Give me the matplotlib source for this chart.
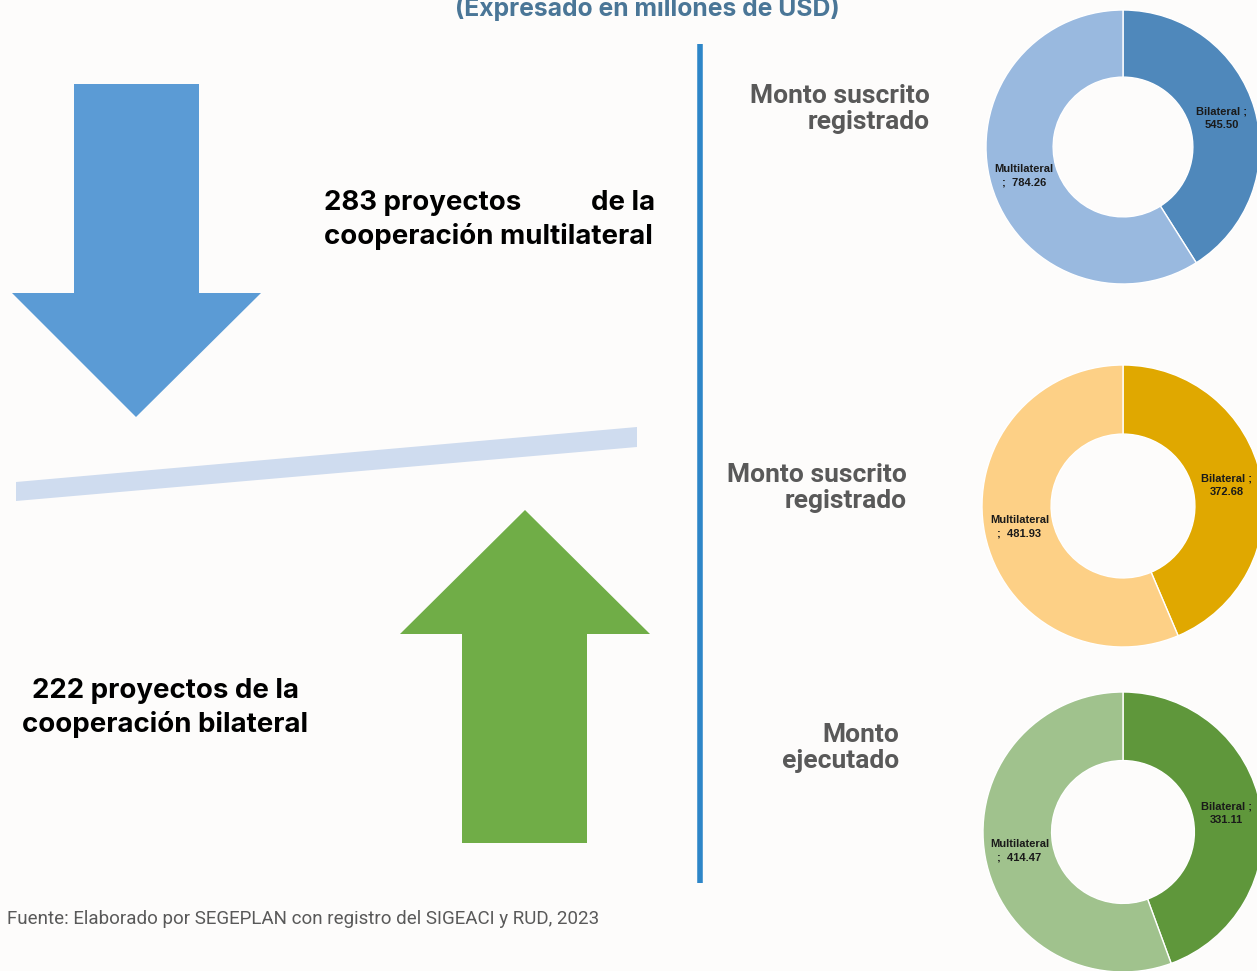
import matplotlib
matplotlib.use('Agg')
import matplotlib.pyplot as plt
from matplotlib.patches import Polygon

# data
panel_titles = ['Monto suscrito\nregistrado', 'Monto suscrito\nregistrado', 'Monto\nejecutado']
bilateral = [545.50, 372.68, 331.11]
multilateral = [784.26, 481.93, 414.47]
bil_colors = ['#4f88bb', '#e0a800', '#5f973b']
mul_colors = ['#99b9df', '#fdd086', '#a0c28d']
n_multi = 283
n_bi = 222

W, H = 1257, 971
fig = plt.figure(figsize=(W / 100, H / 100), dpi=100)
fig.patch.set_facecolor('#fdfcfb')

bg = fig.add_axes([0, 0, 1, 1])
bg.set_xlim(0, W)
bg.set_ylim(H, 0)
bg.axis('off')

# title (cut off at top in the original)
bg.text(647, 16, '(Expresado en millones de USD)', ha='center', va='baseline',
        fontsize=17.8, fontweight='bold', color='#4a7697', family='Inter')

# arrows and balance bar
down = [(74, 84), (199, 84), (199, 293), (261, 293), (136, 417), (12, 293), (74, 293)]
up = [(462, 843), (587, 843), (587, 634), (650, 634), (525, 510), (400, 634), (462, 634)]
bg.add_patch(Polygon(down, closed=True, color='#5b9bd5', lw=0))
bg.add_patch(Polygon(up, closed=True, color='#70ad47', lw=0))
bg.add_patch(Polygon([(16, 482), (637, 427), (637, 447), (16, 501)], closed=True,
                     color='#cfdcef', lw=0))

# divider
bg.plot([700, 700], [44, 883], color='#2e86c8', lw=4, solid_capstyle='butt')

# project counts
big = dict(fontsize=19.9, fontweight='bold', color='black', family='Inter')
bg.text(324, 203, f'{n_multi} proyectos', ha='left', va='center', **big)
bg.text(655, 203, 'de la', ha='right', va='center', **big)
bg.text(324, 237, 'cooperación multilateral', ha='left', va='center', **big)
bg.text(165, 708, f'{n_bi} proyectos de la\ncooperación bilateral', ha='center', va='center',
        linespacing=1.38, **big)

bg.text(7, 919, 'Fuente: Elaborado por SEGEPLAN con registro del SIGEACI y RUD, 2023',
        ha='left', va='center', fontsize=13.5, color='#595959', family='Roboto')

# donuts
centers = [(1123, 147, 137), (1123, 506, 141), (1123, 832, 140)]
title_pos = [(930, 109), (907, 488), (899, 748)]
for i in range(3):
    cx, cy, r = centers[i]
    ax = fig.add_axes([(cx - r) / W, (H - cy - r) / H, 2 * r / W, 2 * r / H])
    b, m = bilateral[i], multilateral[i]
    wedges, texts = ax.pie([b, m], startangle=90, counterclock=False,
                           colors=[bil_colors[i], mul_colors[i]],
                           labels=[f'Bilateral ;\n{b:.2f}', f'Multilateral\n;  {m:.2f}'],
                           labeldistance=0.75,
                           wedgeprops=dict(width=0.49, edgecolor='white', linewidth=1),
                           textprops=dict(fontsize=8, fontweight='bold', color='#1a1a1a',
                                          family='Liberation Sans'))
    for t in texts:
        t.set_ha('center')
        t.set_va('center')
        t.set_linespacing(1.45)
    ax.set_xlim(-1, 1)
    ax.set_ylim(-1, 1)
    ax.axis('off')

    tx, ty = title_pos[i]
    bg.text(tx, ty, panel_titles[i], ha='right', va='center', fontsize=19,
            fontweight='bold', color='#595959', family='Roboto', linespacing=1.12)

fig.savefig('out.png', dpi=100, facecolor=fig.get_facecolor())
